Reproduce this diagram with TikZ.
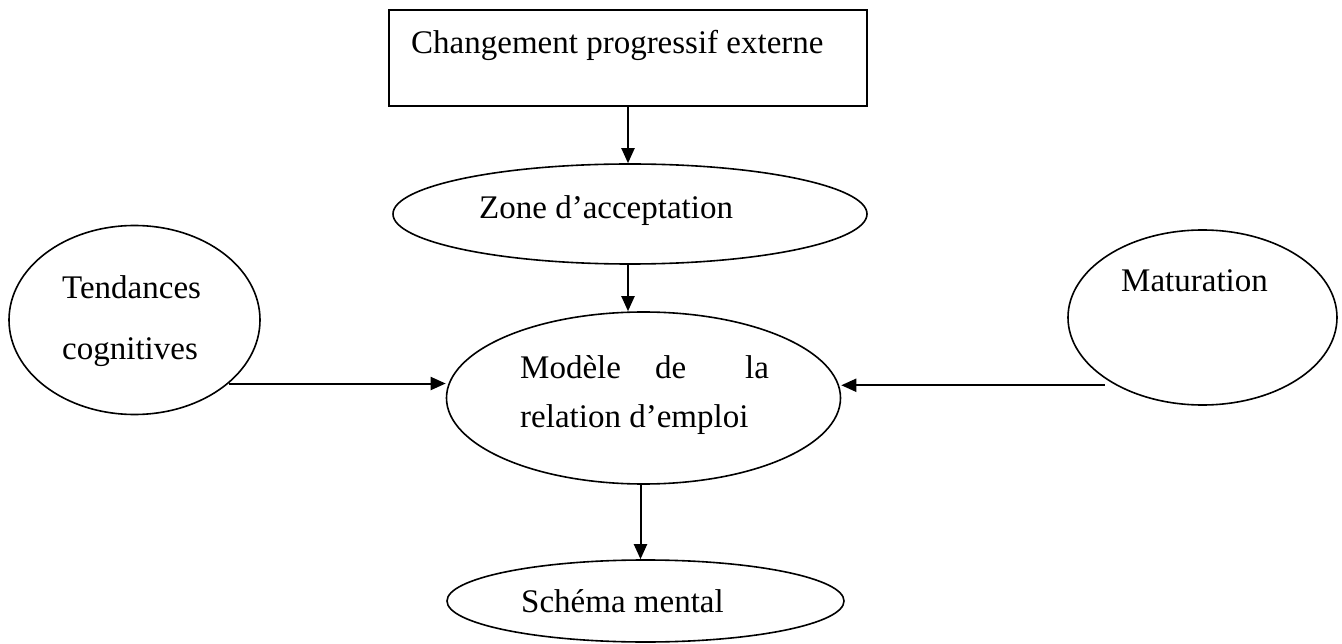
\documentclass[tikz,border=0pt]{standalone}
\usepackage{fontspec}
\setmainfont{Liberation Serif}
\usetikzlibrary{shapes.geometric,arrows.meta,calc}
\begin{document}
\begin{tikzpicture}[x=1pt,y=-1pt,
  lbl/.style={anchor=base west,inner sep=0pt,font=\fontsize{33}{40}\selectfont},
  oval/.style={ellipse,draw,line width=1.6pt,inner sep=0pt},
  arr/.style={line width=2pt,-{Triangle[length=15pt,width=13pt]}}]
\useasboundingbox (0,0) rectangle (1342,644);
% shapes
\node[draw,line width=2pt,minimum width=478pt,minimum height=96pt,inner sep=0pt] (rect) at (628,58) {};
\node[oval,minimum width=474pt,minimum height=100pt] (zone) at (630,214) {};
\node[oval,minimum width=394pt,minimum height=172pt] (mod) at (643.5,398) {};
\node[oval,minimum width=251pt,minimum height=189pt] (tend) at (134.5,320) {};
\node[oval,minimum width=269pt,minimum height=175pt] (mat) at (1202.5,317.5) {};
\node[oval,minimum width=397pt,minimum height=82pt] (sch) at (645.5,601) {};
% texts
\node[lbl] (t1) at (411,54) {Changement progressif externe};
\node[lbl] (t2) at (479,219) {Zone d’acceptation};
\node[lbl] (t3) at (62,299) {Tendances};
\node[lbl] (t4) at (62,360) {cognitives};
\node[lbl] (t5) at (1121,292) {Maturation};
\node[lbl] (t6a) at (520,378) {Modèle};
\node[lbl] (t6b) at (655,378) {de};
\node[lbl] (t6c) at (745,378) {la};
\node[lbl] (t7) at (520,428) {relation d’emploi};
\node[lbl] (t8) at (521,612) {Schéma mental};
% connectors
\coordinate (ms) at ($(mat.218)+(-11,0)$);
\draw[arr] (rect.south) -- (rect.south |- zone.north);
\draw[arr] (rect.south |- zone.south) -- (rect.south |- mod.north);
\draw[arr] (tend.-34) -- (tend.-34 -| mod.west);
\draw[arr] (ms) -- (ms -| mod.east);
\draw[arr] ([xshift=-3pt]mod.south) -- ([xshift=-3pt]mod.south |- sch.north);
\end{tikzpicture}
\end{document}
